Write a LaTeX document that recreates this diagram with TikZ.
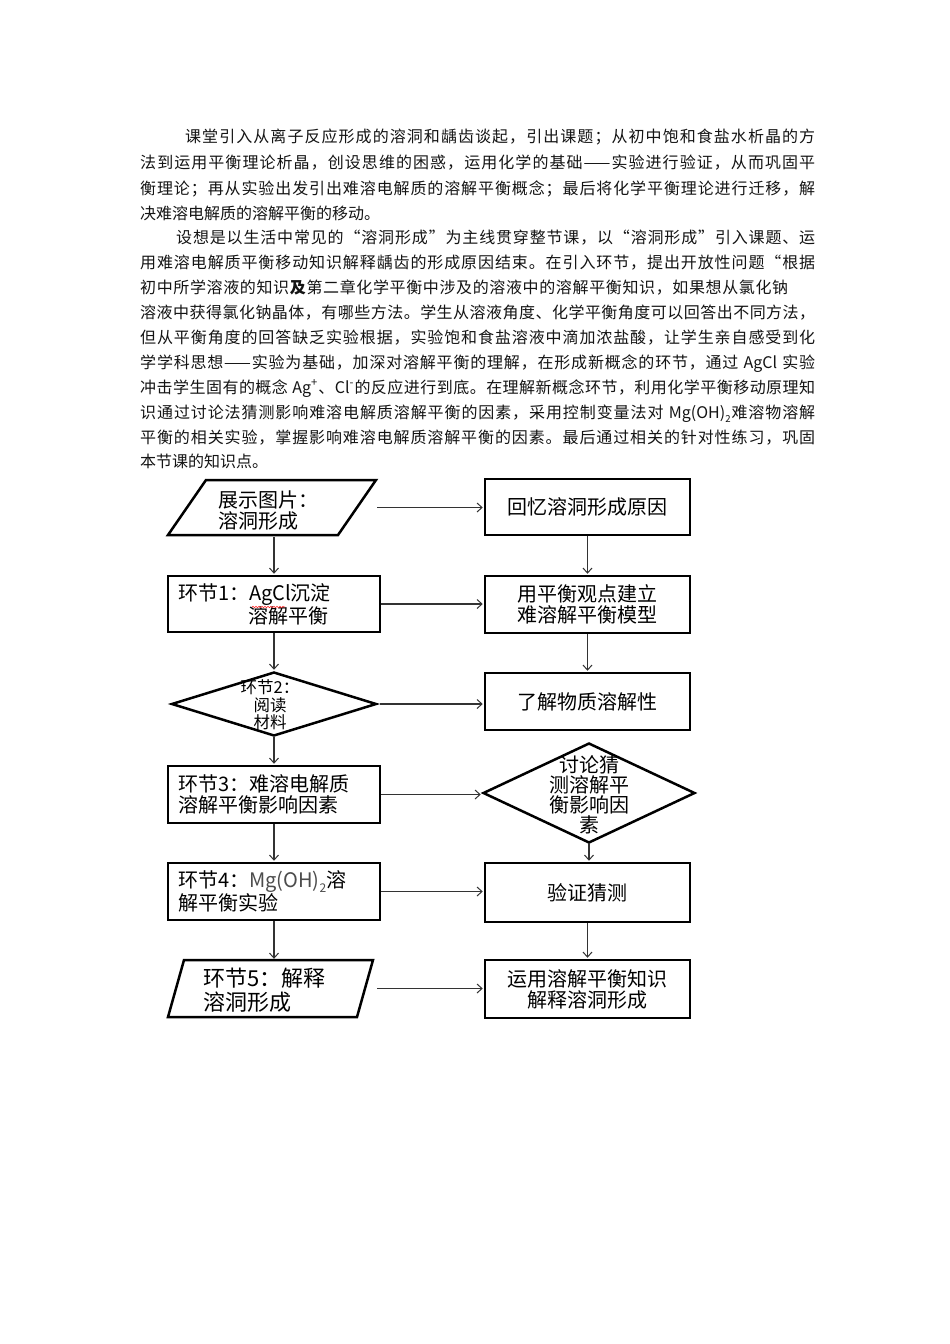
\documentclass[tikz,border=0pt]{standalone}
\usepackage{fontspec}
\setmainfont{Noto Sans CJK SC}
\usetikzlibrary{arrows.meta,shapes.geometric,decorations.pathmorphing}
\newcommand\pfont{\fontsize{16}{25}\selectfont}
\newcommand\ffont{\fontsize{20}{21}\selectfont}
\newcommand\dfont{\fontsize{16.5}{17.5}\selectfont}
\newcommand\bigfont{\fontsize{22}{24}\selectfont}
\def\myspread#1{\def\myspreadtmp{#1}\ifx\myspreadtmp\myspreadend\else#1\hfil\expandafter\myspread\fi}
\def\myspreadend{\myspreadstop}
\newcommand\lowtwo{\raisebox{-0.25em}{\fontsize{0.6em}{0.6em}\selectfont 2}}
\newcommand\pline[4]{\node[ptext] at (#1,#2+6) {\hbox to \dimexpr#3pt-#1pt\relax{\myspread#4\myspreadstop\unskip}};}
\tikzset{
  ptext/.style={anchor=base west, inner sep=0pt, font=\pfont, text=black!92},
  fbox/.style={draw=black, line width=2.5pt, inner sep=0pt, font=\ffont},
  lbox/.style={fbox, minimum width=212pt, text width=192pt, align=left},
  rbox/.style={fbox, minimum width=205pt, align=center},
  dia/.style={diamond, draw=black, line width=2.5pt, inner sep=0pt},
  ghost/.style={inner sep=0pt, minimum width=209pt},
  shapeline/.style={draw=black, line width=2.5pt, line join=miter},
  conn/.style={draw=black!80, line width=1.1pt, shorten >=1pt,
    -{Straight Barb[length=5pt,width=9pt,line width=1pt]}}
}
\begin{document}
\begin{tikzpicture}[x=1pt,y=-1pt]
\useasboundingbox (0,0) rectangle (950,1344);
\fill[white] (0,0) rectangle (950,1344);

% ---------- paragraphs ----------
\pline{185}{136}{815}{课堂引入从离子反应形成的溶洞和龋齿谈起，引出课题；从初中饱和食盐水析晶的方}
\pline{140}{162}{815}{法到运用平衡理论析晶，创设思维的困惑，运用化学的基础{——}实验进行验证，从而巩固平}
\pline{140}{188}{815}{衡理论；再从实验出发引出难溶电解质的溶解平衡概念；最后将化学平衡理论进行迁移，解}
\node[ptext] (l4) at (140,219) {决难溶电解质的溶解平衡的移动。};
\pline{176}{237}{815}{设想是以生活中常见的“溶洞形成”为主线贯穿整节课，以“溶洞形成”引入课题、运}
\pline{140}{262}{815}{用难溶电解质平衡移动知识解释龋齿的形成原因结束。在引入环节，提出开放性问题“根据}
\pline{140}{287}{788}{初中所学溶液的知识{\textbf{及}}第二章化学平衡中涉及的溶液中的溶解平衡知识，如果想从氯化钠}
\pline{140}{312}{815}{溶液中获得氯化钠晶体，有哪些方法。学生从溶液角度、化学平衡角度可以回答出不同方法，}
\pline{140}{337}{815}{但从平衡角度的回答缺乏实验根据，实验饱和食盐溶液中滴加浓盐酸，让学生亲自感受到化}
\pline{140}{362}{815}{学学科思想{——}实验为基础，加深对溶解平衡的理解，在形成新概念的环节，通过\ {AgCl}\ 实验}
\pline{140}{387}{815}{冲击学生固有的概念\ {Ag\textsuperscript{+}}、{Cl\textsuperscript{-}}的反应进行到底。在理解新概念环节，利用化学平衡移动原理知}
\pline{140}{412}{815}{识通过讨论法猜测影响难溶电解质溶解平衡的因素，采用控制变量法对\ {Mg(OH)\lowtwo}难溶物溶解}
\pline{140}{437}{815}{平衡的相关实验，掌握影响难溶电解质溶解平衡的因素。最后通过相关的针对性练习，巩固}
\node[ptext] (l14) at (140,467) {本节课的知识点。};

% ---------- left column ----------
\node[ghost, minimum height=55pt] (p1) at (272.5,507.5) {};
\draw[shapeline] (206,480) -- (376,480) -- (338,535) -- (168,535) -- cycle;
\node[font=\ffont, align=left, anchor=west, inner sep=0pt] (p1t) at (218,510) {展示图片：\\溶洞形成};

\node[lbox, minimum height=56pt] (b1) at (274,604) {\makebox[71pt][l]{环节1：}AgCl沉淀\\\hspace*{70pt}溶解平衡};
\draw[red!85, line width=0.6pt, decorate, decoration={snake, amplitude=0.7pt, segment length=3pt}] (252,607) -- (285,607);

\node[dia, minimum width=205pt, minimum height=64pt] (d2) at (274,704) {};
\node[font=\dfont, align=center, inner sep=0pt] (d2t) at (270,705) {环节2：\\阅读\\材料};

\node[lbox, minimum height=57pt] (b3) at (274,794.5) {环节3：难溶电解质\\溶解平衡影响因素};
\node[lbox, minimum height=57pt] (b4) at (274,891.5) {环节4：{\color{black!70}Mg(OH)\lowtwo}溶\\解平衡实验};

\node[ghost, minimum height=57pt] (p2) at (272.5,988.5) {};
\draw[shapeline] (184,960) -- (373,960) -- (357,1017) -- (168,1017) -- cycle;
\node[font=\bigfont, align=left, anchor=west, inner sep=0pt] (p2t) at (203,990) {环节5：解释\\溶洞形成};

% ---------- right column ----------
\node[rbox, minimum height=56pt] (r1) at (587.5,507) {回忆溶洞形成原因};
\node[rbox, minimum height=57pt] (r2) at (587.5,604.5) {用平衡观点建立\\难溶解平衡模型};
\node[rbox, minimum height=57pt] (r3) at (587.5,701.5) {了解物质溶解性};
\node[dia, minimum width=212pt, minimum height=100pt] (rd) at (589,793) {};
\node[font=\fontsize{20}{20}\selectfont, align=center, inner sep=0pt] (rdt) at (589,795) {讨论猜\\测溶解平\\衡影响因\\素};
\node[rbox, minimum height=59pt] (r4) at (587.5,892.5) {验证猜测};
\node[rbox, minimum height=58pt] (r5) at (587.5,989) {运用溶解平衡知识\\解释溶洞形成};

% ---------- connectors ----------
\draw[conn] (p1.east) -- (p1.east -| r1.west);
\draw[conn] (b1.east) -- (b1.east -| r2.west);
\draw[conn] ([xshift=2pt]d2.east) -- (d2.east -| r3.west);
\draw[conn] (b3.east) -- (b3.east -| rd.west);
\draw[conn] (b4.east) -- (b4.east -| r4.west);
\draw[conn] (p2.east) -- (p2.east -| r5.west);

\draw[conn] ([yshift=-2pt]b1.north |- p1.south) -- (b1.north);
\draw[conn] (b1.south) -- (d2.north);
\draw[conn] (d2.south) -- (b3.north);
\draw[conn] (b3.south) -- (b4.north);
\draw[conn] (b4.south) -- (b4.south |- p2.north);

\draw[conn] (r1.south) -- (r2.north);
\draw[conn] (r2.south) -- (r3.north);
\draw[conn] (rd.south) -- (rd.south |- r4.north);
\draw[conn] (r4.south) -- (r5.north);
\end{tikzpicture}
\end{document}
